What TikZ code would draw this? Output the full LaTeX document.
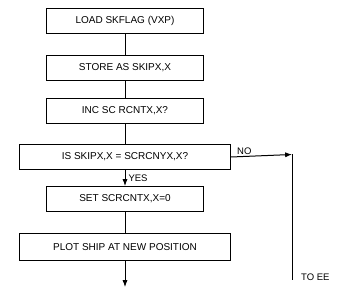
\documentclass[tikz,border=0pt]{standalone}
\usepackage{fontspec}
\setsansfont{Liberation Sans}
\usepackage{tikz}
\usetikzlibrary{arrows.meta,positioning}

\begin{document}
\begin{tikzpicture}[
  x=1pt, y=-1pt,
  font=\sffamily\fontsize{10}{12}\selectfont,
  stepbox/.style={draw=black, line width=1pt, minimum width=157pt,
    minimum height=25pt, inner sep=2pt, align=center},
  widebox/.style={stepbox, minimum width=211pt},
  flow/.style={-{Latex[length=2.4mm,width=1.8mm]}, line width=1pt, draw=black},
  wire/.style={line width=1pt, draw=black},
  lbl/.style={inner sep=1pt, font=\sffamily\fontsize{9.5}{11}\selectfont}
]
  \useasboundingbox (0,0) rectangle (337,296);

  \node[stepbox] (load) at (125,21) {LOAD SKFLAG (VXP)};
  \node[stepbox, below=21pt of load] (store) {STORE AS SKIPX,X};
  \node[stepbox, below=17pt of store] (inc) {INC SC RCNTX,X?};
  \node[widebox, below=20pt of inc] (test) {IS SKIPX,X = SCRCNYX,X?};
  \node[stepbox, below=16pt of test] (reset) {SET SCRCNTX,X=0};
  \node[widebox, below=21pt of reset, minimum height=27pt] (plot) {PLOT SHIP AT NEW POSITION};

  \draw[wire] (load) -- (store);
  \draw[wire] (store) -- (inc);
  \draw[wire] (inc) -- (test);
  \draw[flow] (test) -- (reset)
    node[lbl, midway, right=2pt] (yes) {YES};
  \draw[wire] (reset) -- (plot);
  \coordinate (next) at (125,287);
  \draw[flow] (plot) -- (next);

  % NO branch off to EE
  \coordinate (bend) at (292,154.5);
  \coordinate (toee) at (292,280);
  \draw[flow] (test.east) -- (bend);
  \draw[wire] (bend) -- (toee);
  \node[lbl, above right=1pt and 5pt of test.east] (no) {NO};
  \node[lbl, anchor=west] (ee) at (300,277) {TO EE};
\end{tikzpicture}
\end{document}
